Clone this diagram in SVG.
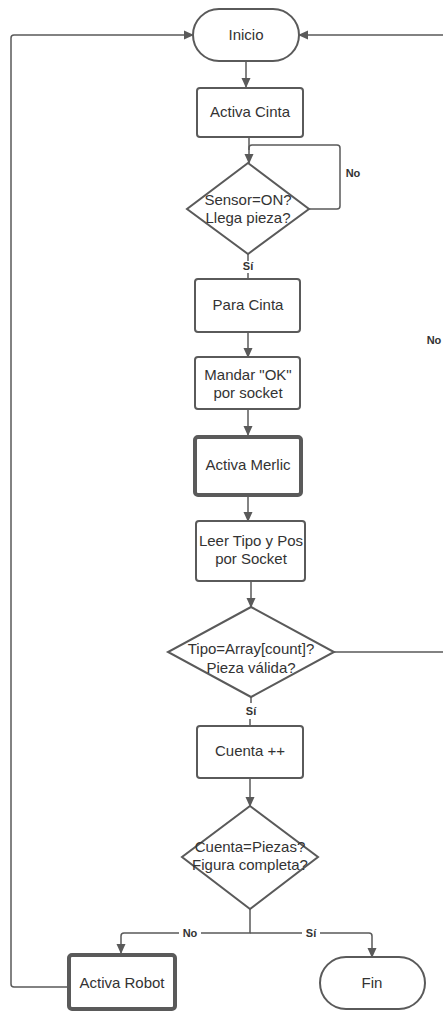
<svg xmlns="http://www.w3.org/2000/svg" width="443" height="1012" viewBox="0 0 443 1012">
<style>
.n{fill:#fff;stroke:#5a5a5a;stroke-width:2}
.k{stroke-width:4}
.tx{font-family:"Liberation Sans",Arial,sans-serif;font-size:15px;fill:#333;text-anchor:middle}
.lb{font-family:"Liberation Sans",Arial,sans-serif;font-size:11px;font-weight:bold;fill:#333;text-anchor:middle}
.c{fill:none;stroke:#5a5a5a;stroke-width:1.5;stroke-linejoin:round}
</style>
<defs>
<marker id="a" markerWidth="10" markerHeight="10" refX="9" refY="5" orient="auto" markerUnits="userSpaceOnUse">
<path d="M0,0.5 L10,5 L0,9.5 Z" fill="#5a5a5a"/>
</marker>
</defs>
<rect width="443" height="1012" fill="#fff"/>
<g id="connectors">
<path class="c" d="M246,62 V87" marker-end="url(#a)"/>
<path class="c" d="M249,137 V163" marker-end="url(#a)"/>
<path class="c" d="M309,209 H337 Q340,209 340,206 V148 Q340,145 337,145 H252 Q249,145 249,148 V150"/>
<path class="c" d="M248,254 V261"/>
<path class="c" d="M248,273 V279"/>
<path class="c" d="M248,332 V357" marker-end="url(#a)"/>
<path class="c" d="M248,409 V435" marker-end="url(#a)"/>
<path class="c" d="M248,496 V521" marker-end="url(#a)"/>
<path class="c" d="M251,581 V607" marker-end="url(#a)"/>
<path class="c" d="M334,652 H448 V38 Q448,35 445,35 H299" marker-end="url(#a)"/>
<path class="c" d="M251,697 V703"/>
<path class="c" d="M250,719 V726"/>
<path class="c" d="M250,778 V806" marker-end="url(#a)"/>
<path class="c" d="M250,909 V933 H124 Q121,933 121,936 V953" marker-end="url(#a)"/>
<path class="c" d="M250,933 H369 Q372,933 372,936 V957" marker-end="url(#a)"/>
<path class="c" d="M68,987 H14 Q11,987 11,984 V38 Q11,35 14,35 H193" marker-end="url(#a)"/>
<text class="lb" x="353" y="177">No</text>
<text class="lb" x="248" y="270">Sí</text>
<text class="lb" x="434" y="344">No</text>
<text class="lb" x="251" y="715">Sí</text>
<rect x="179" y="927" width="22" height="12" fill="#fff"/>
<text class="lb" x="190" y="937">No</text>
<rect x="302" y="927" width="18" height="12" fill="#fff"/>
<text class="lb" x="311" y="937">Sí</text>
</g>
<g id="inicio">
<rect class="n" x="193" y="9" width="106" height="52" rx="26"/>
<text class="tx" x="246" y="40">Inicio</text>
</g>
<g id="activa-cinta">
<rect class="n" x="197" y="88" width="106" height="49" rx="3"/>
<text class="tx" x="250" y="117">Activa Cinta</text>
</g>
<g id="sensor">
<path class="n" d="M248,163 L309,209 L248,254 L187,209 Z"/>
<text class="tx" x="248" y="205">Sensor=ON?</text>
<text class="tx" x="248" y="223">Llega pieza?</text>
</g>
<g id="para-cinta">
<rect class="n" x="195" y="279" width="105" height="53" rx="3"/>
<text class="tx" x="248" y="310">Para Cinta</text>
</g>
<g id="mandar">
<rect class="n" x="195" y="357" width="105" height="52" rx="3"/>
<text class="tx" x="248" y="380">Mandar "OK"</text>
<text class="tx" x="248" y="398">por socket</text>
</g>
<g id="activa-merlic">
<rect class="n k" x="195" y="437" width="106" height="58" rx="3"/>
<text class="tx" x="248" y="470">Activa Merlic</text>
</g>
<g id="leer">
<rect class="n" x="196" y="521" width="109" height="60" rx="3"/>
<text class="tx" x="251" y="546">Leer Tipo y Pos</text>
<text class="tx" x="251" y="564">por Socket</text>
</g>
<g id="tipo">
<path class="n" d="M251,607 L334,652 L251,697 L168,652 Z"/>
<text class="tx" x="251" y="654">Tipo=Array[count]?</text>
<text class="tx" x="251" y="673">Pieza válida?</text>
</g>
<g id="cuenta">
<rect class="n" x="197" y="726" width="106" height="52" rx="3"/>
<text class="tx" x="250" y="756">Cuenta ++</text>
</g>
<g id="cuenta-piezas">
<path class="n" d="M250,806 L318,857 L250,909 L182,857 Z"/>
<text class="tx" x="250" y="852">Cuenta=Piezas?</text>
<text class="tx" x="250" y="870">Figura completa?</text>
</g>
<g id="activa-robot">
<rect class="n k" x="69" y="955" width="106" height="54" rx="3"/>
<text class="tx" x="122" y="988">Activa Robot</text>
</g>
<g id="fin">
<rect class="n" x="320" y="957" width="105" height="52" rx="26"/>
<text class="tx" x="372" y="988">Fin</text>
</g>
</svg>
